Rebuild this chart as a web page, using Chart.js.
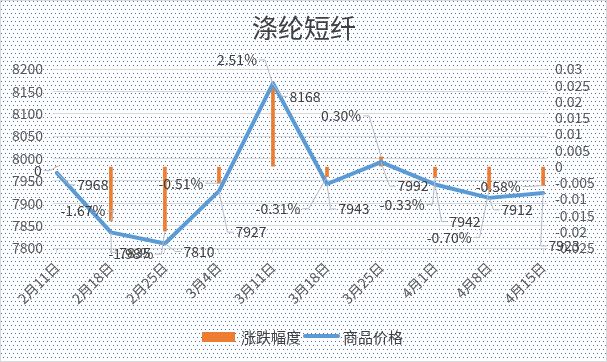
<!DOCTYPE html>
<html><head><meta charset="utf-8">
<script src="https://cdn.jsdelivr.net/npm/chart.js@4.4.1/dist/chart.umd.min.js"></script>
<style>html,body{margin:0;padding:0;background:#fff;}</style>
</head><body>
<canvas id="c" width="607" height="362"></canvas>
<script>
// ---- data ----
const dates = ['2月11日','2月18日','2月25日','3月4日','3月11日','3月18日','3月25日','4月1日','4月8日','4月15日'];
const dayOffsets = [0,7,14,21,28,35,42,49,56,63]; // days after 2月11日 (date axis)
const prices = [7968,7835,7810,7927,8168,7943,7992,7942,7912,7923];
const changes = [0,-0.0167,-0.0198,-0.0051,0.0251,-0.0031,0.0030,-0.0033,-0.0070,-0.0058];
const changeLabels = ['0','-1.67%','-1.98%','-0.51%','2.51%','-0.31%','0.30%','-0.33%','-0.70%','-0.58%'];
const priceAxis = {min:7800, max:8200, step:50};
const changeAxis = {min:-0.025, max:0.03, step:0.005};
const title = '涤纶短纤';
const seriesNames = ['涨跌幅度','商品价格'];

// ---- styling (label offsets relative to their mark) ----
const priceLabelOffsets = [[36,12],[24,20],[34,8],[32,41],[32,13],[27,25],[32,24],[30,37],[28,12],[21,53]];
const changeLabelOffsets = [[-19,4],[-28,-10],[-34,23],[-38,0],[-36,-25],[-49,32],[-40,-41],[-33,27],[-40,48],[-45,1]];
const FONT = '"Noto Sans CJK SC","Noto Sans",sans-serif';
const ORANGE = '#ed7d31', BLUE = '#5b9bd5';

function makePattern(ctx){
  const p = document.createElement('canvas'); p.width = 8; p.height = 8;
  const g = p.getContext('2d');
  g.fillStyle = 'rgba(55,100,175,0.9)';
  [[1,1],[5,1],[3,5],[7,5]].forEach(([x,y]) => g.fillRect(x,y,1,1));
  return ctx.createPattern(p,'repeat');
}

const deco = {
  id:'deco',
  beforeDraw(chart){
    const ctx = chart.ctx, W = chart.width, H = chart.height;
    ctx.save();
    ctx.fillStyle = '#fff'; ctx.fillRect(0,0,W,H);
    ctx.fillStyle = makePattern(ctx); ctx.fillRect(0,0,W,H);
    ctx.strokeStyle = '#d9d9d9'; ctx.lineWidth = 1; ctx.strokeRect(0.5,0.5,W-1,H-1);
    ctx.restore();
  },
  afterDatasetsDraw(chart){
    const ctx = chart.ctx;
    ctx.save();
    ctx.font = '14px ' + FONT;
    ctx.textAlign = 'center'; ctx.textBaseline = 'middle';
    const drawLabel = (text, ax, ay, off) => {
      const cx = ax + off[0], cy = ay + off[1];
      const w = ctx.measureText(text).width, h = 14;
      const L = cx - w/2 - 2, R = cx + w/2 + 2, T = cy - h/2, B = cy + h/2;
      const dist = Math.hypot(off[0], off[1]);
      if (dist > 12) {
        ctx.strokeStyle = '#b4bcc6'; ctx.lineWidth = 1;
        ctx.beginPath();
        if (ax > R) { ctx.moveTo(R, cy); ctx.lineTo(R + 6, cy); ctx.lineTo(ax, ay); }
        else if (ax < L) { ctx.moveTo(L, cy); ctx.lineTo(L - 6, cy); ctx.lineTo(ax, ay); }
        else if (ay < T) { ctx.moveTo(ax, T); ctx.lineTo(ax, ay); }
        else if (ay > B) { ctx.moveTo(ax, B); ctx.lineTo(ax, ay); }
        ctx.stroke();
      }
      ctx.fillStyle = '#404040';
      ctx.fillText(text, cx, cy);
    };
    const barMeta = chart.getDatasetMeta(0), lineMeta = chart.getDatasetMeta(1);
    barMeta.data.forEach((el,i) => drawLabel(changeLabels[i], el.x, el.y, changeLabelOffsets[i]));
    lineMeta.data.forEach((el,i) => drawLabel(String(prices[i]), el.x, el.y, priceLabelOffsets[i]));
    ctx.restore();
  },
  afterDraw(chart){
    const ctx = chart.ctx;
    ctx.save();
    ctx.fillStyle = '#404040';
    ctx.font = '26px ' + FONT; ctx.textAlign = 'center'; ctx.textBaseline = 'middle';
    ctx.fillText(title, 304, 28);
    // legend
    ctx.font = '15px ' + FONT; ctx.textAlign = 'left';
    ctx.fillStyle = ORANGE; ctx.fillRect(202, 332, 33, 10);
    ctx.fillStyle = '#404040'; ctx.fillText(seriesNames[0], 241, 337);
    ctx.strokeStyle = BLUE; ctx.lineWidth = 4; ctx.lineCap = 'round';
    ctx.beginPath(); ctx.moveTo(305, 336); ctx.lineTo(338, 336); ctx.stroke();
    ctx.fillStyle = '#404040'; ctx.fillText(seriesNames[1], 343, 337);
    ctx.restore();
  }
};

new Chart(document.getElementById('c'), {
  type: 'bar',
  data: {
    datasets: [
      { type:'bar', label: seriesNames[0], yAxisID:'y1', order:1,
        data: dayOffsets.map((d,i) => ({x:d, y:changes[i]})),
        backgroundColor: ORANGE, barThickness: 3 },
      { type:'line', label: seriesNames[1], yAxisID:'y', order:0,
        data: dayOffsets.map((d,i) => ({x:d, y:prices[i]})),
        borderColor: BLUE, borderWidth: 4, pointRadius: 0, tension: 0,
        borderJoinStyle:'round', borderCapStyle:'round', fill:false }
    ]
  },
  options: {
    responsive: false, animation: false, devicePixelRatio: 1,
    layout: { padding: { top: 69, left: 0, right: 0, bottom: 0 } },
    plugins: { legend:{display:false}, title:{display:false}, tooltip:{enabled:false} },
    scales: {
      x: { type:'linear', min:-0.5, max:63.5, offset:false,
        afterBuildTicks: s => { s.ticks = dayOffsets.map(v => ({value:v})); },
        afterFit: s => { s.height = 114; },
        ticks: { callback: v => dates[dayOffsets.indexOf(v)], autoSkip:false, minRotation:45, maxRotation:45,
                 color:'#595959', font:{family:FONT, size:14}, padding:6 },
        grid: { offset:false, drawOnChartArea:false, drawTicks:true, tickLength:5, color:'#d9d9d9' },
        border: { display:true, color:'#d9d9d9' } },
      y: { position:'left', min: priceAxis.min, max: priceAxis.max,
        afterFit: s => { s.width = 53; },
        ticks: { stepSize: priceAxis.step, autoSkip:false, color:'#595959', font:{family:FONT, size:14}, padding:10,
                 callback: v => String(v) },
        grid: { color:'#d9d9d9', drawTicks:false },
        border: { display:false } },
      y1: { position:'right', min: changeAxis.min, max: changeAxis.max,
        afterFit: s => { s.width = 60; },
        ticks: { stepSize: changeAxis.step, autoSkip:false, color:'#595959', font:{family:FONT, size:14}, padding:8,
                 callback: v => String(+v.toFixed(3)) },
        grid: { drawOnChartArea:false, drawTicks:false },
        border: { display:false } }
    }
  },
  plugins: [deco]
});
</script>
</body></html>
